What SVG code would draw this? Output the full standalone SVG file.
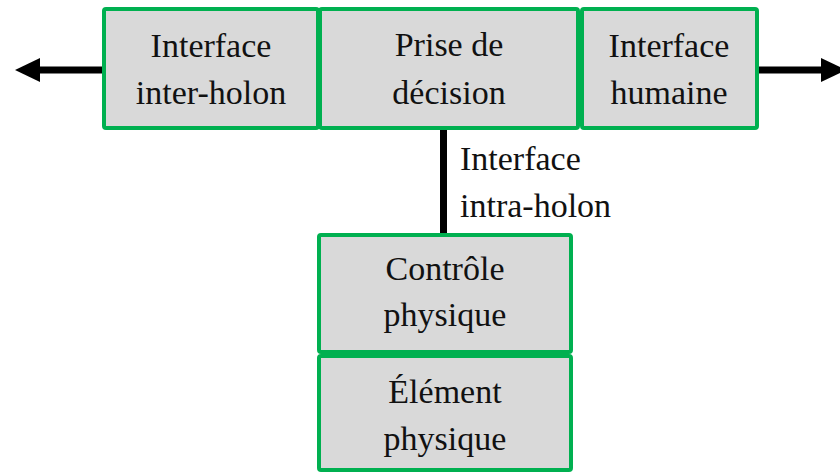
<svg xmlns="http://www.w3.org/2000/svg" width="840" height="474" viewBox="0 0 840 474">
  <style>
    .box { fill: #d9d9d9; stroke: #00b050; stroke-width: 4; }
    .lbl { font-family: "Liberation Serif", "Times New Roman", serif; font-size: 34px; fill: #111; text-anchor: middle; }
    .side { text-anchor: start; }
    .conn { stroke: #000; stroke-width: 7; fill: none; }
  </style>
  <defs>
    <marker id="head" markerUnits="userSpaceOnUse" markerWidth="26" markerHeight="26" refX="1" refY="13" orient="auto">
      <path d="M0,1 L25,13 L0,25 Z" fill="#000"/>
    </marker>
  </defs>
  <g id="connectors">
    <line class="conn" x1="102" y1="70" x2="39" y2="70" marker-end="url(#head)"/>
    <line class="conn" x1="759" y1="70" x2="822" y2="70" marker-end="url(#head)"/>
    <line class="conn" x1="443.5" y1="130" x2="443.5" y2="234"/>
  </g>
  <g id="inter-holon">
    <rect class="box" x="104" y="9" width="214" height="119" rx="2"/>
    <text class="lbl" x="211" y="57">Interface</text>
    <text class="lbl" x="211" y="104">inter-holon</text>
  </g>
  <g id="prise-decision">
    <rect class="box" x="320" y="9" width="258" height="119" rx="2"/>
    <text class="lbl" x="449" y="56">Prise de</text>
    <text class="lbl" x="449" y="104">décision</text>
  </g>
  <g id="interface-humaine">
    <rect class="box" x="582" y="9" width="175" height="119" rx="2"/>
    <text class="lbl" x="669" y="57">Interface</text>
    <text class="lbl" x="669" y="104">humaine</text>
  </g>
  <g id="intra-holon-label">
    <text class="lbl side" x="460" y="170">Interface</text>
    <text class="lbl side" x="460" y="217">intra-holon</text>
  </g>
  <g id="controle-physique">
    <rect class="box" x="319" y="235" width="252" height="117" rx="2"/>
    <text class="lbl" x="445" y="280">Contrôle</text>
    <text class="lbl" x="445" y="326">physique</text>
  </g>
  <g id="element-physique">
    <rect class="box" x="319" y="356" width="252" height="114" rx="2"/>
    <text class="lbl" x="445" y="403">Élément</text>
    <text class="lbl" x="445" y="450">physique</text>
  </g>
</svg>
